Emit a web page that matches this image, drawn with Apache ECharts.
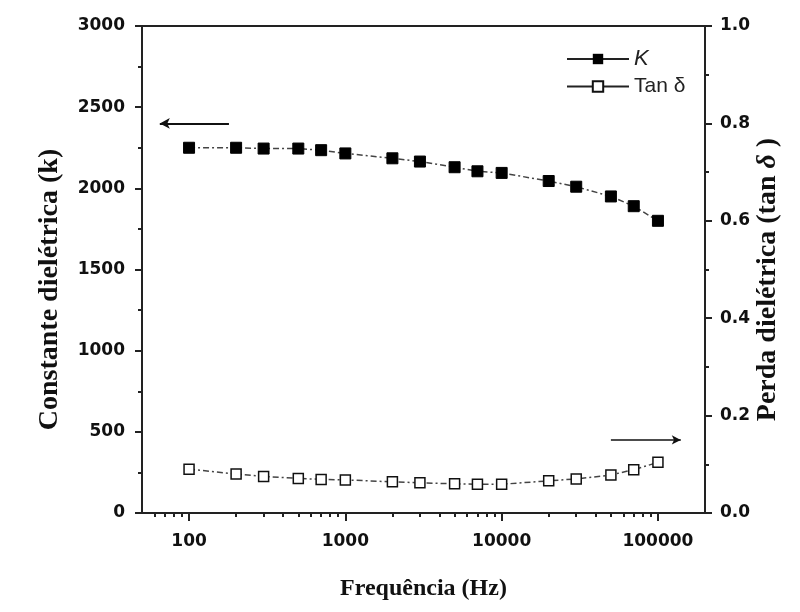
<!DOCTYPE html>
<html>
<head>
<meta charset="utf-8">
<script src="https://cdn.jsdelivr.net/npm/echarts@6/dist/echarts.min.js"></script>
<style>
  html, body { margin: 0; padding: 0; background: #fff; }
  #chart { width: 800px; height: 612px; }
</style>
</head>
<body>
<div id="chart"></div>
<script>
// frequencies (Hz)
var freqs = [100, 200, 300, 500, 700, 1000, 2000, 3000, 5000, 7000, 10000, 20000, 30000, 50000, 70000, 100000];
// dielectric constant K (left axis)
var kValues = [2250, 2250, 2245, 2245, 2235, 2215, 2185, 2165, 2130, 2105, 2095, 2045, 2010, 1950, 1890, 1800];
// tan delta (right axis)
var tanValues = [0.090, 0.080, 0.075, 0.071, 0.069, 0.068, 0.064, 0.062, 0.060, 0.059, 0.059, 0.066, 0.070, 0.078, 0.089, 0.104];
// arrows pointing to the axis of each series
var kArrow = [[180, 2400], [65, 2400]];
var tanArrow = [[50000, 0.15], [140000, 0.15]];

var xMin = 50, xMax = 200000;

var pair = function (xs, ys) {
    var out = [];
    for (var i = 0; i < xs.length; i++) {
        out.push([xs[i], ys[i]]);
    }
    return out;
};

var tickFont = {
    color: '#111',
    fontFamily: 'DejaVu Sans',
    fontWeight: 'bold',
    fontSize: 17
};
var titleFont = {
    color: '#111',
    fontFamily: 'Liberation Serif',
    fontWeight: 'bold',
    fontSize: 28
};
var axisColor = '#222';
var plotBox = { left: 142, right: 95, top: 26, bottom: 99 };

var option = {
    animation: false,
    backgroundColor: '#fff',
    grid: [
        Object.assign({ show: true, borderColor: axisColor, borderWidth: 2, containLabel: false }, plotBox),
        // overlay grid that only carries the minor decade ticks
        Object.assign({ show: false, containLabel: false }, plotBox)
    ],
    legend: {
        orient: 'vertical',
        left: 561, top: 43,
        itemWidth: 62, itemHeight: 13, itemGap: 6,
        lineStyle: { type: 'solid', width: 2, color: '#222' },
        textStyle: {
            color: '#222', fontFamily: 'Liberation Sans', fontSize: 21,
            rich: { i: { fontStyle: 'italic', fontFamily: 'Liberation Sans', fontSize: 22, color: '#222' } }
        },
        formatter: function (name) {
            return name === 'K' ? '{i|K}' : name;
        },
        data: ['K', 'Tan \u03b4']
    },
    xAxis: [
        {
            type: 'log', min: xMin, max: xMax, position: 'bottom', gridIndex: 0,
            name: 'Frequência (Hz)', nameLocation: 'middle', nameGap: 64, nameMoveOverlap: false,
            nameTextStyle: Object.assign({}, titleFont, { fontSize: 24 }),
            axisLine: { show: true, lineStyle: { color: axisColor, width: 2 } },
            axisTick: { length: 8, lineStyle: { color: axisColor, width: 2 } },
            axisLabel: {
                margin: 20, showMinLabel: false, showMaxLabel: false,
                formatter: function (v) { return String(Math.round(v)); },
                color: tickFont.color, fontFamily: tickFont.fontFamily,
                fontWeight: tickFont.fontWeight, fontSize: tickFont.fontSize
            },
            splitLine: { show: false }
        },
        {
            type: 'log', min: xMin, max: xMax, gridIndex: 1,
            axisLine: { show: false },
            axisTick: { show: false },
            minorTick: { show: true, splitNumber: 9, length: 4, lineStyle: { color: axisColor, width: 2 } },
            axisLabel: { show: true, color: 'rgba(0,0,0,0)' },
            splitLine: { show: false }
        }
    ],
    yAxis: [
        {
            type: 'value', min: 0, max: 3000, interval: 500, position: 'left', gridIndex: 0,
            name: 'Constante dielétrica (k)', nameLocation: 'middle', nameGap: 78, nameRotate: 90, nameMoveOverlap: false,
            nameTextStyle: Object.assign({ padding: [0, 40, 0, 0] }, titleFont),
            axisLine: { show: true, lineStyle: { color: axisColor, width: 2 } },
            axisTick: { show: true, inside: false, length: 7, lineStyle: { color: axisColor, width: 2 } },
            minorTick: { show: true, splitNumber: 2, length: 4, lineStyle: { color: axisColor, width: 2 } },
            axisLabel: {
                margin: 17, color: tickFont.color, fontFamily: tickFont.fontFamily,
                fontWeight: tickFont.fontWeight, fontSize: tickFont.fontSize,
                formatter: function (v) { return String(v); }
            },
            splitLine: { show: false }
        },
        {
            type: 'value', min: 0, max: 1, interval: 0.2, position: 'right', gridIndex: 0,
            name: 'Perda dielétrica (tan {i|\u03b4} )', nameLocation: 'middle', nameGap: 49, nameRotate: 90, nameMoveOverlap: false,
            nameTextStyle: Object.assign({
                padding: [0, 20, 0, 0],
                rich: { i: { fontStyle: 'italic', fontFamily: 'Liberation Serif', fontWeight: 'bold', fontSize: 28, color: '#111' } }
            }, titleFont),
            axisLine: { show: true, lineStyle: { color: axisColor, width: 2 } },
            axisTick: { show: true, inside: false, length: 7, lineStyle: { color: axisColor, width: 2 } },
            minorTick: { show: true, splitNumber: 2, length: 4, lineStyle: { color: axisColor, width: 2 } },
            axisLabel: {
                margin: 15, color: tickFont.color, fontFamily: tickFont.fontFamily,
                fontWeight: tickFont.fontWeight, fontSize: tickFont.fontSize,
                formatter: function (v) { return v.toFixed(1); }
            },
            splitLine: { show: false }
        },
        {
            type: 'value', min: 0, max: 1, gridIndex: 1, show: false
        }
    ],
    series: [
        {
            name: 'K', type: 'line', xAxisIndex: 0, yAxisIndex: 0,
            data: pair(freqs, kValues),
            symbol: 'rect', symbolSize: 11,
            itemStyle: { color: '#000', borderColor: '#000' },
            lineStyle: { color: '#444', width: 1.5, type: [6, 3, 2, 3] },
            markLine: {
                silent: true, symbol: ['none', 'arrow'], symbolSize: [8, 10],
                label: { show: false },
                lineStyle: { color: '#111', width: 2, type: 'solid' },
                data: [[{ coord: kArrow[0] }, { coord: kArrow[1] }]]
            }
        },
        {
            name: 'Tan \u03b4', type: 'line', xAxisIndex: 0, yAxisIndex: 1,
            data: pair(freqs, tanValues),
            symbol: 'rect', symbolSize: 10,
            itemStyle: { color: '#fff', borderColor: '#111', borderWidth: 1.5 },
            lineStyle: { color: '#444', width: 1.5, type: [6, 3, 2, 3] },
            markLine: {
                silent: true, symbol: ['none', 'arrow'], symbolSize: [7, 9],
                label: { show: false },
                lineStyle: { color: '#111', width: 1.5, type: 'solid' },
                data: [[{ coord: tanArrow[0] }, { coord: tanArrow[1] }]]
            }
        }
    ]
};

var chart = echarts.init(document.getElementById('chart'), null, { renderer: 'canvas' });
chart.setOption(option);
</script>
</body>
</html>
